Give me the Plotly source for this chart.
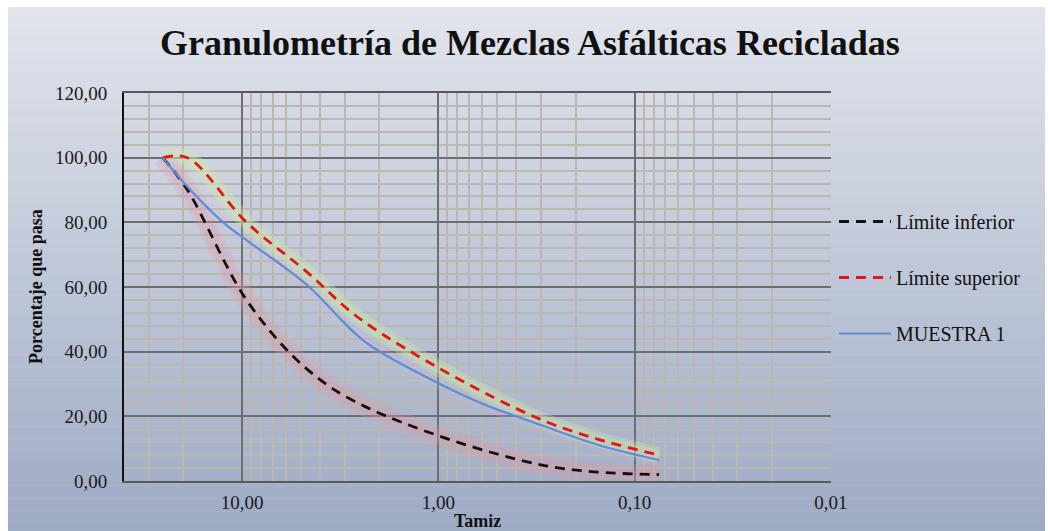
import math
import plotly.graph_objects as go

# Sieve openings (mm) and percent passing
tamiz_limites = [25.4, 19.0, 9.5, 4.75, 2.36, 0.3, 0.075]
limite_inferior = [100, 90, 56, 35, 23, 5, 2]
limite_superior = [100, 100, 80, 65, 49, 19, 8]

tamiz_muestra = [25.4, 19.0, 12.5, 9.5, 4.75, 2.36, 1.18, 0.6, 0.3, 0.15, 0.075]
muestra_1 = [100, 91, 80, 74.5, 61, 43, 32.5, 24, 17.3, 11, 6.5]

x_tickvals = [10, 1, 0.1, 0.01]
x_ticktext = ["10,00", "1,00", "0,10", "0,01"]

W, H = 1048, 531
L, R, T, B = 124, 831, 93, 481

FONT = "Liberation Serif"

fig = go.Figure()

# soft halo under each curve
halos = [
    (tamiz_limites, limite_inferior, "rgba(236,150,160,0.20)", [20, 12]),
    (tamiz_limites, limite_superior, "rgba(205,235,170,0.30)", [16, 10]),
    (tamiz_muestra, muestra_1, "rgba(215,185,215,0.18)", [12]),
]
for xs, ys, col, widths in halos:
    for w in widths:
        fig.add_trace(go.Scatter(
            x=xs, y=ys, mode="lines", line=dict(color=col, width=w, shape="spline"),
            showlegend=False, hoverinfo="skip"))

fig.add_trace(go.Scatter(
    x=tamiz_limites, y=limite_inferior, mode="lines", name="Límite inferior",
    legendgroup="a",
    line=dict(color="#111111", width=2.8, dash="10px,7px", shape="spline")))
fig.add_trace(go.Scatter(
    x=tamiz_limites, y=limite_superior, mode="lines", name="Límite superior",
    legendgroup="b",
    line=dict(color="#e3141b", width=2.8, dash="10px,7px", shape="spline")))
fig.add_trace(go.Scatter(
    x=tamiz_muestra, y=muestra_1, mode="lines", name="MUESTRA 1",
    legendgroup="c",
    line=dict(color="#5b8ed6", width=2.2, shape="spline")))

# vertical gradient background of the chart area
def px_x(p):
    return (p - L) / (R - L)

def px_y(p):
    return (B - p) / (B - T)

top_c = (225, 228, 235)
bot_c = (158, 171, 197)
n = 80
y_top, y_bot = 7, 531
shapes = []
for i in range(n):
    t = i / (n - 1)
    c = tuple(round(top_c[k] + (bot_c[k] - top_c[k]) * t) for k in range(3))
    ya = y_top + (y_bot - y_top) * i / n
    yb = y_top + (y_bot - y_top) * (i + 1) / n + 0.5
    shapes.append(dict(
        type="rect", xref="paper", yref="paper", layer="below",
        x0=px_x(8), x1=px_x(1045), y0=px_y(yb), y1=px_y(ya),
        line=dict(width=0), fillcolor="rgb(%d,%d,%d)" % c))

annotations = [
    dict(text="<b>Granulometría de Mezclas Asfálticas Recicladas</b>",
         xref="paper", yref="paper", x=px_x(530), y=px_y(43),
         xanchor="center", yanchor="middle", showarrow=False,
         font=dict(family=FONT, size=36, color="#111111")),
    dict(text="<b>Tamiz</b>", xref="paper", yref="paper",
         x=px_x(477), y=px_y(521), xanchor="center", yanchor="middle",
         showarrow=False, font=dict(family=FONT, size=18, color="#111111")),
    dict(text="<b>Porcentaje que pasa</b>", xref="paper", yref="paper",
         x=px_x(36), y=px_y(287), xanchor="center", yanchor="middle",
         textangle=-90, showarrow=False,
         font=dict(family=FONT, size=18, color="#111111")),
]

fig.update_layout(
    width=W, height=H,
    margin=dict(l=L, r=W - R, t=T, b=H - B, pad=0, autoexpand=False),
    paper_bgcolor="white",
    plot_bgcolor="rgba(0,0,0,0)",
    separators=",.",
    shapes=shapes,
    annotations=annotations,
    font=dict(family=FONT, size=18, color="#1a1a1a"),
    legend=dict(
        x=px_x(834), xanchor="left", y=px_y(202), yanchor="top",
        font=dict(family=FONT, size=20, color="#111111"),
        bgcolor="rgba(0,0,0,0)", tracegroupgap=27, itemwidth=52,
        traceorder="grouped"),
    xaxis=dict(
        type="log", range=[math.log10(40), -2.001], autorange=False,
        tickvals=x_tickvals, ticktext=x_ticktext, automargin=False,
        showgrid=True, gridcolor="#6e6e6e", gridwidth=1.6,
        minor=dict(showgrid=True, dtick="D1", gridcolor="rgb(186,184,176)",
                   gridwidth=1.5, ticks=""),
        showline=True, linecolor="#5a5a5a", linewidth=1.6, mirror=True,
        ticks="", ticklabelstandoff=3, zeroline=False,
        tickfont=dict(family=FONT, size=19, color="#1a1a1a"),
    ),
    yaxis=dict(
        range=[0, 120], autorange=False, dtick=20, tickformat=".2f",
        automargin=False,
        showgrid=True, gridcolor="#6e6e6e", gridwidth=1.6,
        minor=dict(showgrid=True, dtick=4, gridcolor="rgb(186,184,176)",
                   gridwidth=1.5, ticks=""),
        showline=True, linecolor="#111111", linewidth=1.8,
        ticks="", ticklabelstandoff=11, zeroline=False,
        tickfont=dict(family=FONT, size=19, color="#1a1a1a"),
    ),
)

fig.write_html("out.html")
